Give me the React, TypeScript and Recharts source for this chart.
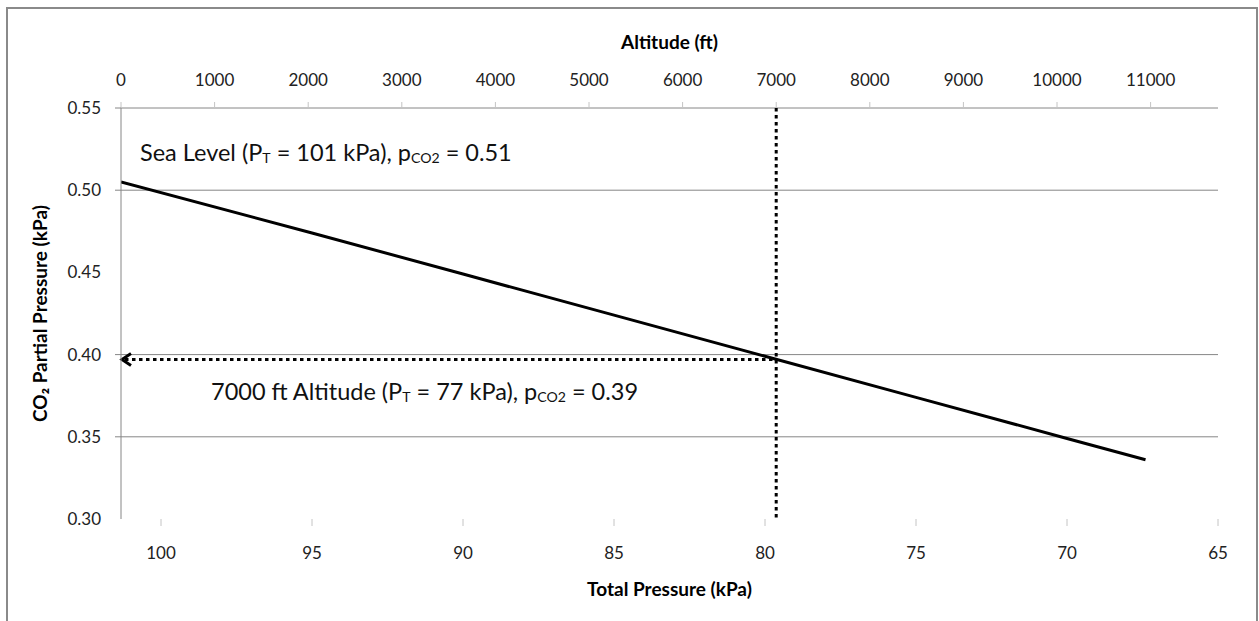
import { ComposedChart, Line, ReferenceLine, XAxis, YAxis } from "recharts"

// total pressure (kPa) vs CO2 partial pressure (kPa)
const pressureKpa = [101.325, 95, 90, 85, 80, 75, 70, 67.4]
const co2Kpa = [0.505, 0.474, 0.449, 0.424, 0.399, 0.374, 0.349, 0.336]

const pressureTicks = [100, 95, 90, 85, 80, 75, 70, 65]
const altitudeTicks = [0, 1000, 2000, 3000, 4000, 5000, 6000, 7000, 8000, 9000, 10000, 11000]
const co2Ticks = [0.3, 0.35, 0.4, 0.45, 0.5, 0.55]
const gridValues = [0.35, 0.4, 0.5, 0.55]

// the 7000 ft marker
const markAltitudeFt = 7000
const markPressureKpa = 79.6
const markCo2Kpa = 0.397

const FONT = "Lato, 'Open Sans', sans-serif"
const GRID = "#868686"
const LIGHT = "#c4c4c4"

const chartData = pressureKpa.map((p, i) => ({ p, c: co2Kpa[i] }))
// rows that only give the secondary (altitude) axis something to scale on
const altitudeRows = altitudeTicks.map((alt) => ({ alt }))

function YTick(props: any) {
    const { x, y, payload } = props
    const v = payload.value
    return (
        <g>
            {gridValues.some((g) => Math.abs(g - v) < 1e-9) && (
                <line x1={x + 2} x2={x + 8} y1={y} y2={y} stroke={GRID} />
            )}
            <text x={x - 12} y={y} dy="0.35em" textAnchor="end" fontSize={17} fontFamily={FONT} fill="#222">
                {v.toFixed(2)}
            </text>
        </g>
    )
}

function ArrowShape(props: any) {
    const { x1, y1, x2, y2 } = props
    return (
        <g>
            <line x1={x1 + 4} y1={y1} x2={x2} y2={y2} stroke="#000" strokeWidth={3} strokeDasharray="3.5 3.5" />
            <polyline
                points={`${x1 + 10},${y1 - 6} ${x1 + 1},${y1} ${x1 + 10},${y1 + 6}`}
                fill="none"
                stroke="#000"
                strokeWidth={3}
            />
        </g>
    )
}

function Sub({ children }: { children: string }) {
    return (
        <tspan fontSize="0.6em" dy="2">
            {children}
        </tspan>
    )
}

const titleStyle = { fontFamily: FONT, fontSize: 19, fontWeight: 700, fill: "#000" }

export default function App() {
    return (
        <div style={{ position: "absolute", left: 0, top: 0, width: 1259, height: 621, background: "#fff" }}>
            <ComposedChart width={1259} height={621} data={chartData} margin={{ top: 0, right: 41, bottom: 0, left: 0 }}>
                <XAxis
                    xAxisId="p"
                    dataKey="p"
                    type="number"
                    domain={[65, 101.325]}
                    allowDataOverflow
                    reversed
                    ticks={pressureTicks}
                    interval={0}
                    height={102}
                    axisLine={false}
                    tickLine={{ stroke: LIGHT }}
                    tickSize={7}
                    tickMargin={21}
                    tick={{ fill: "#222", fontSize: 17, fontFamily: FONT }}
                    label={{ value: "Total Pressure (kPa)", position: "insideBottom", offset: 25, style: titleStyle }}
                />
                <XAxis
                    xAxisId="alt"
                    dataKey="alt"
                    orientation="top"
                    type="number"
                    domain={[0, 11720]}
                    allowDataOverflow
                    ticks={altitudeTicks}
                    interval={0}
                    height={108}
                    axisLine={false}
                    tickLine={{ stroke: LIGHT }}
                    tickSize={6}
                    tickMargin={16}
                    tick={{ fill: "#222", fontSize: 17, fontFamily: FONT }}
                    label={{ value: "Altitude (ft)", position: "insideTop", offset: 36, style: titleStyle }}
                />
                <YAxis
                    type="number"
                    domain={[0.3, 0.55]}
                    allowDataOverflow
                    ticks={co2Ticks}
                    interval={0}
                    width={121}
                    axisLine={{ stroke: GRID }}
                    tickLine={false}
                    tick={<YTick />}
                    label={{
                        value: "CO₂ Partial Pressure (kPa)",
                        angle: -90,
                        position: "insideLeft",
                        offset: 40,
                        style: { ...titleStyle, textAnchor: "middle" },
                    }}
                />
                {gridValues.map((v) => (
                    <ReferenceLine key={v} xAxisId="p" y={v} stroke={GRID} />
                ))}
                <Line
                    xAxisId="alt"
                    data={altitudeRows}
                    dataKey="c"
                    stroke="none"
                    dot={false}
                    activeDot={false}
                    legendType="none"
                    isAnimationActive={false}
                />
                <Line
                    xAxisId="p"
                    type="linear"
                    dataKey="c"
                    stroke="#000"
                    strokeWidth={3}
                    dot={false}
                    activeDot={false}
                    isAnimationActive={false}
                />
                <ReferenceLine
                    xAxisId="alt"
                    x={markAltitudeFt}
                    stroke="#000"
                    strokeWidth={3}
                    strokeDasharray="3.5 3.5"
                />
                <ReferenceLine
                    xAxisId="p"
                    segment={[
                        { x: pressureKpa[0], y: markCo2Kpa },
                        { x: markPressureKpa, y: markCo2Kpa },
                    ]}
                    shape={ArrowShape}
                />
            </ComposedChart>
            <svg
                width={1259}
                height={621}
                style={{ position: "absolute", left: 0, top: 0, pointerEvents: "none" }}
            >
                <rect x={7} y={8} width={1250} height={640} fill="none" stroke="#8a8a8a" strokeWidth={2} />
                <text x={140} y={161} fontFamily={FONT} fontSize={23.5} fill="#111">
                    Sea Level (P<Sub>T</Sub>
                    <tspan dy="-2"> = 101 kPa), p</tspan>
                    <Sub>CO2</Sub>
                    <tspan dy="-2"> = 0.51</tspan>
                </text>
                <text x={211} y={400} fontFamily={FONT} fontSize={23.5} fill="#111">
                    7000 ft Altitude (P<Sub>T</Sub>
                    <tspan dy="-2"> = 77 kPa), p</tspan>
                    <Sub>CO2</Sub>
                    <tspan dy="-2"> = 0.39</tspan>
                </text>
            </svg>
        </div>
    )
}
